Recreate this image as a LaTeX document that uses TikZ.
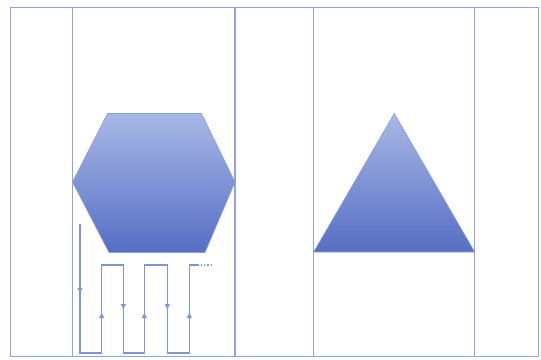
\documentclass[tikz,border=0pt]{standalone}
\usetikzlibrary{arrows.meta}
\definecolor{frameblue}{RGB}{146,163,220}
\definecolor{lineblue}{RGB}{128,148,216}
\definecolor{shadetop}{RGB}{168,184,230}
\definecolor{shadebot}{RGB}{86,110,196}
\definecolor{shapeedge}{RGB}{140,158,218}
\tikzset{
  frame/.style={draw=frameblue, line width=1.5pt},
  solid shape/.style={draw=shapeedge, line width=0.6pt, top color=shadetop, bottom color=shadebot},
  meander/.style={draw=lineblue, line width=1.3pt},
  tip/.style={draw=lineblue, line width=1pt, -{Triangle[length=5pt,width=5pt]}}
}
\begin{document}
\begin{tikzpicture}[x=1pt,y=-1pt]
\useasboundingbox (0,0) rectangle (541,359);
% frame and columns
\draw[frame] (10.5,7.5) rectangle (538.5,356.5);
\draw[frame] (72.5,7.5) -- (72.5,356.5);
\draw[frame] (235,7.5) -- (235,356.5);
\draw[frame] (313.7,7.5) -- (313.7,356.5);
\draw[frame] (474.7,7.5) -- (474.7,356.5);
% hexagon
\path[solid shape] (107.5,113.5) -- (201.5,113.5) -- (235,182) -- (205,252.5) -- (109,252.5) -- (72.5,182) -- cycle;
% triangle
\path[solid shape] (394.3,113.5) -- (474.7,252) -- (313.7,252) -- cycle;
% meander
\draw[meander] (80,224) -- (80,353) -- (101.7,353) -- (101.7,265) -- (123.3,265) -- (123.3,353)
  -- (144.3,353) -- (144.3,265) -- (167.3,265) -- (167.3,353) -- (189.3,353) -- (189.3,265) -- (199,265);
\draw[draw=lineblue, line width=1.2pt, dash pattern=on 1.2pt off 2.2pt] (200.5,265) -- (212,265);
% arrow tips
\draw[tip] (80,285) -- (80,293);
\draw[tip] (101.7,322) -- (101.7,313);
\draw[tip] (123.3,301) -- (123.3,309);
\draw[tip] (144.3,322) -- (144.3,313);
\draw[tip] (167.3,301) -- (167.3,309);
\draw[tip] (189.3,322) -- (189.3,313);
\end{tikzpicture}
\end{document}
